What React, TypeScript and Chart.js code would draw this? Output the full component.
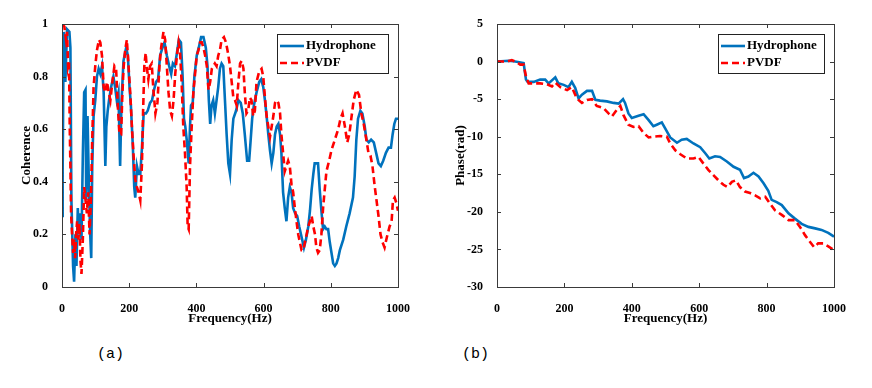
import React, { useEffect, useRef } from "react";
import { Chart, registerables } from "chart.js";
Chart.register(...registerables);

// ---------- Panel (a): Coherence ----------
const cohHydroFreq = [0,2,5,10,15,22,25,28,33,36,40,43,47,50,54,58,62,66,70,72,76,80,84,87,90,94,99,104,109,114,119,124,129,132,136,140,146,153,158,163,168,173,177,183,191,196,201,205,211,215,218,223,228,233,238,243,250,255,262,268,274,280,286,292,299,305,312,319,325,330,336,342,348,354,359,363,367,372,377,381,384,389,394,401,407,414,421,428,433,437,441,445,450,455,460,465,470,475,480,485,490,495,500,505,510,518,525,532,538,544,551,557,561,566,571,579,587,593,599,604,609,614,619,624,629,634,639,644,649,653,658,663,668,673,678,683,688,694,700,706,713,720,726,733,738,743,748,752,757,762,767,772,777,782,787,792,797,802,807,812,817,822,827,837,846,856,866,871,876,881,888,894,901,906,913,920,928,935,942,949,956,964,972,979,984,989,994,1000];
const cohHydro = [0.27,0.44,0.97,0.78,0.98,0.97,0.91,0.33,0.08,0.02,0.2,0.08,0.3,0.2,0.28,0.18,0.5,0.74,0.75,0.33,0.65,0.39,0.2,0.11,0.46,0.65,0.71,0.8,0.83,0.81,0.84,0.74,0.46,0.61,0.67,0.71,0.76,0.8,0.76,0.71,0.74,0.46,0.7,0.86,0.91,0.88,0.76,0.69,0.53,0.38,0.34,0.46,0.43,0.43,0.53,0.66,0.66,0.67,0.7,0.71,0.75,0.78,0.79,0.88,0.91,0.93,0.88,0.84,0.81,0.85,0.84,0.89,0.94,0.93,0.8,0.64,0.61,0.55,0.47,0.61,0.69,0.7,0.8,0.88,0.91,0.95,0.95,0.91,0.84,0.71,0.62,0.69,0.71,0.66,0.71,0.76,0.83,0.85,0.84,0.71,0.58,0.47,0.43,0.56,0.64,0.67,0.71,0.7,0.66,0.58,0.48,0.48,0.55,0.64,0.69,0.74,0.78,0.79,0.76,0.71,0.65,0.58,0.52,0.47,0.51,0.58,0.61,0.62,0.58,0.51,0.36,0.3,0.25,0.34,0.38,0.36,0.3,0.28,0.27,0.23,0.19,0.15,0.18,0.23,0.29,0.37,0.43,0.47,0.47,0.47,0.37,0.29,0.22,0.23,0.22,0.22,0.17,0.13,0.09,0.08,0.09,0.11,0.14,0.18,0.23,0.28,0.34,0.42,0.56,0.64,0.67,0.66,0.61,0.56,0.55,0.56,0.55,0.51,0.47,0.46,0.48,0.51,0.53,0.53,0.58,0.62,0.64,0.64];

const cohPvdfFreq = [0,7,12,15,18,21,23,25,27,30,33,36,39,42,45,49,52,55,58,62,66,70,74,78,82,86,90,94,99,104,110,114,119,124,129,134,139,144,150,156,161,166,171,176,179,183,188,193,198,203,208,213,218,223,228,233,238,241,245,249,252,257,262,267,272,278,284,290,295,302,307,312,317,322,327,332,337,342,347,351,356,361,366,371,374,377,381,386,391,396,401,406,411,416,421,426,431,436,441,446,450,455,460,465,470,475,482,488,494,500,505,510,515,520,525,530,535,540,544,549,554,559,564,569,574,579,587,594,599,604,609,614,619,624,629,634,639,644,649,653,658,663,668,673,678,683,688,693,698,703,708,713,718,723,728,733,738,743,748,753,757,762,767,772,777,782,787,795,802,812,822,829,835,842,849,855,861,868,876,884,891,898,906,912,918,924,930,936,942,948,954,960,967,975,981,985,990,995,1000];
const cohPvdf = [1.0,0.99,0.94,0.97,0.84,0.86,0.61,0.46,0.28,0.2,0.13,0.18,0.11,0.2,0.25,0.18,0.24,0.1,0.05,0.18,0.38,0.33,0.28,0.36,0.2,0.33,0.56,0.76,0.84,0.9,0.94,0.93,0.88,0.76,0.74,0.78,0.74,0.71,0.78,0.84,0.83,0.69,0.58,0.58,0.71,0.83,0.9,0.94,0.84,0.74,0.61,0.5,0.41,0.38,0.36,0.33,0.47,0.65,0.84,0.89,0.84,0.79,0.84,0.85,0.75,0.66,0.7,0.84,0.91,0.97,0.94,0.84,0.74,0.67,0.65,0.71,0.81,0.88,0.93,0.9,0.78,0.61,0.51,0.38,0.23,0.22,0.46,0.61,0.74,0.81,0.88,0.9,0.93,0.93,0.91,0.88,0.84,0.75,0.78,0.83,0.84,0.85,0.84,0.88,0.9,0.94,0.95,0.93,0.89,0.84,0.78,0.72,0.71,0.69,0.78,0.85,0.86,0.83,0.74,0.66,0.67,0.72,0.71,0.65,0.67,0.78,0.82,0.83,0.8,0.72,0.65,0.61,0.57,0.61,0.65,0.7,0.71,0.7,0.66,0.58,0.51,0.44,0.46,0.48,0.46,0.39,0.36,0.3,0.25,0.2,0.17,0.14,0.14,0.17,0.2,0.23,0.25,0.27,0.23,0.2,0.15,0.13,0.14,0.2,0.3,0.37,0.44,0.48,0.52,0.56,0.6,0.64,0.66,0.61,0.55,0.58,0.64,0.71,0.75,0.73,0.66,0.62,0.56,0.51,0.5,0.46,0.39,0.33,0.27,0.2,0.17,0.15,0.19,0.23,0.25,0.33,0.34,0.32,0.29];

// ---------- Panel (b): Phase ----------
const phaseHydroFreq = [0,35,54,79,86,91,109,128,143,153,173,182,198,212,222,232,242,252,267,282,292,306,326,346,361,374,380,390,400,420,435,450,464,474,489,499,514,534,548,563,583,603,618,630,647,662,682,702,721,733,746,761,776,791,805,815,830,845,865,884,904,924,944,963,983,1000];
const phaseHydro = [0,0.1,0,-0.2,-2.4,-2.7,-2.7,-2.4,-2.4,-2.9,-2.1,-2.9,-3.1,-3.4,-2.7,-3.5,-4.9,-4.4,-3.9,-3.9,-5.1,-5.2,-5.3,-5.5,-5.6,-5.0,-5.5,-6.9,-7.5,-7.2,-7.0,-7.8,-8.6,-8.4,-8.1,-8.9,-10.1,-10.8,-10.4,-10.3,-10.9,-11.4,-12.2,-12.9,-12.6,-12.7,-13.3,-14.0,-14.4,-15.5,-15.3,-14.8,-15.3,-16.2,-17.2,-18.4,-18.7,-19.1,-20.2,-20.9,-21.6,-22.0,-22.2,-22.4,-22.8,-23.3];

const phasePvdfFreq = [0,30,44,54,69,79,86,94,109,128,148,163,173,188,208,222,237,252,267,282,296,316,331,341,356,366,375,390,405,420,435,450,464,484,504,514,529,543,563,583,598,613,627,642,657,672,684,697,709,721,736,751,766,781,796,810,825,845,865,884,899,914,929,941,953,968,983,1000];
const phasePvdf = [0,0,0.2,0,-0.4,-0.4,-2.0,-2.9,-2.9,-2.9,-3.0,-3.3,-2.8,-3.4,-3.8,-3.4,-4.9,-5.5,-5.1,-5.0,-5.9,-6.2,-6.9,-7.3,-6.4,-5.9,-7.1,-8.4,-8.7,-8.6,-9.5,-10.1,-10.0,-9.9,-10.0,-10.9,-11.8,-12.3,-12.9,-12.9,-12.7,-13.6,-14.4,-15.1,-15.8,-16.4,-16.7,-16.0,-15.8,-16.7,-17.3,-17.5,-17.8,-18.2,-18.0,-18.9,-19.8,-20.4,-21.1,-21.1,-22.0,-23.1,-24.0,-24.7,-24.2,-24.2,-24.6,-25.1];

const seriesNames = ["Hydrophone", "PVDF"];
const xTitle = "Frequency(Hz)";
const yTitleA = "Coherence";
const yTitleB = "Phase(rad)";
const captions = ["(a)", "(b)"];

const BLUE = "#0072BD";
const RED = "#FF0000";
const FONT = '"Liberation Serif", "Times New Roman", serif';

function pts(xs: number[], ys: number[]) {
  return xs.map((x, i) => ({ x, y: ys[i] }));
}

function fmtTick(v: number | string) {
  return String(parseFloat(Number(v).toFixed(2)));
}

const framePlugin = {
  id: "matlabFrame",
  afterDraw(chart: any) {
    const { ctx, chartArea } = chart;
    const { left, right, top, bottom } = chartArea;
    ctx.save();
    ctx.strokeStyle = "#3a3a3a";
    ctx.lineWidth = 1;
    ctx.strokeRect(Math.round(left) + 0.5, Math.round(top) + 0.5, Math.round(right - left), Math.round(bottom - top));
    const tl = 4;
    ctx.beginPath();
    const xs = chart.scales.x;
    xs.ticks.forEach((t: any) => {
      const p = Math.round(xs.getPixelForValue(t.value)) + 0.5;
      if (p <= left + 1 || p >= right - 1) return;
      ctx.moveTo(p, bottom);
      ctx.lineTo(p, bottom - tl);
      ctx.moveTo(p, top);
      ctx.lineTo(p, top + tl);
    });
    const ys = chart.scales.y;
    ys.ticks.forEach((t: any) => {
      const p = Math.round(ys.getPixelForValue(t.value)) + 0.5;
      if (p <= top + 1 || p >= bottom - 1) return;
      ctx.moveTo(left, p);
      ctx.lineTo(left + tl, p);
      ctx.moveTo(right, p);
      ctx.lineTo(right - tl, p);
    });
    ctx.stroke();
    ctx.restore();
  },
};

const legendPlugin = {
  id: "boxLegend",
  afterDraw(chart: any, _args: any, opts: any) {
    const { ctx, chartArea } = chart;
    const w = opts.width || 108;
    const h = 39;
    const x = Math.round(chartArea.right - 10 - w);
    const y = Math.round(chartArea.top + 10);
    ctx.save();
    ctx.fillStyle = "#ffffff";
    ctx.fillRect(x, y, w, h);
    ctx.strokeStyle = "#222";
    ctx.lineWidth = 1;
    ctx.strokeRect(x + 0.5, y + 0.5, w, h);
    chart.data.datasets.forEach((ds: any, i: number) => {
      const cy = y + 12 + i * 17;
      ctx.strokeStyle = ds.borderColor;
      ctx.lineWidth = ds.borderWidth;
      ctx.setLineDash(ds.borderDash || []);
      ctx.beginPath();
      ctx.moveTo(x + 3, cy);
      ctx.lineTo(x + 27, cy);
      ctx.stroke();
      ctx.setLineDash([]);
      ctx.fillStyle = "#000";
      ctx.font = "bold 13px " + FONT;
      ctx.textBaseline = "middle";
      ctx.textAlign = "left";
      ctx.fillText(ds.label, x + 29, cy);
    });
    ctx.restore();
  },
};

function makeConfig(opts: {
  hx: number[]; hy: number[]; px: number[]; py: number[];
  ymin: number; ymax: number; ystep: number; ytitle: string; padRight: number; titlePad: number; legendW: number;
}) {
  return {
    type: "line" as const,
    data: {
      datasets: [
        {
          label: seriesNames[0],
          data: pts(opts.hx, opts.hy),
          borderColor: BLUE,
          backgroundColor: BLUE,
          borderWidth: 2.6,
          pointRadius: 0,
          tension: 0,
          order: 1,
        },
        {
          label: seriesNames[1],
          data: pts(opts.px, opts.py),
          borderColor: RED,
          backgroundColor: RED,
          borderWidth: 2.6,
          borderDash: [7, 4],
          pointRadius: 0,
          tension: 0,
          order: 0,
        },
      ],
    },
    options: {
      responsive: false,
      animation: false,
      events: [],
      layout: { padding: { left: 0, right: opts.padRight, top: 24, bottom: 5 } },
      plugins: {
        legend: { display: false },
        tooltip: { enabled: false },
        boxLegend: { width: opts.legendW },
      },
      scales: {
        x: {
          type: "linear",
          min: 0,
          max: 1000,
          grid: { display: false },
          border: { display: false },
          ticks: {
            stepSize: 200,
            autoSkip: false,
            maxRotation: 0,
            padding: 7,
            color: "#000",
            font: { family: FONT, size: 12, weight: "bold" },
            callback: (v: any) => fmtTick(v),
          },
          title: {
            display: true,
            text: xTitle,
            color: "#000",
            font: { family: FONT, size: 13, weight: "bold" },
            padding: { top: 0, bottom: 4 },
          },
          afterFit: (s: any) => { s.height = 43; },
        },
        y: {
          type: "linear",
          min: opts.ymin,
          max: opts.ymax,
          grid: { display: false },
          border: { display: false },
          ticks: {
            stepSize: opts.ystep,
            autoSkip: false,
            padding: 6,
            color: "#000",
            font: { family: FONT, size: 12, weight: "bold" },
            callback: (v: any) => fmtTick(v),
          },
          title: {
            display: true,
            text: opts.ytitle,
            color: "#000",
            font: { family: FONT, size: 13, weight: "bold" },
            padding: { top: opts.titlePad, bottom: 0 },
          },
          afterFit: (s: any) => { s.width = 62; },
        },
      },
    },
    plugins: [framePlugin, legendPlugin],
  };
}

function ChartCanvas(props: { config: any; left: number; width: number; height: number }) {
  const ref = useRef<HTMLCanvasElement | null>(null);
  useEffect(() => {
    if (!ref.current) return;
    const chart = new Chart(ref.current, props.config);
    return () => chart.destroy();
  }, []);
  return (
    <canvas
      ref={ref}
      width={props.width}
      height={props.height}
      style={{ position: "absolute", left: props.left, top: 0, width: props.width, height: props.height }}
    />
  );
}

export default function App() {
  const cfgA = makeConfig({
    hx: cohHydroFreq, hy: cohHydro, px: cohPvdfFreq, py: cohPvdf,
    ymin: 0, ymax: 1, ystep: 0.2, ytitle: yTitleA, padRight: 32, titlePad: 19, legendW: 111,
  });
  const cfgB = makeConfig({
    hx: phaseHydroFreq, hy: phaseHydro, px: phasePvdfFreq, py: phasePvdf,
    ymin: -30, ymax: 5, ystep: 5, ytitle: yTitleB, padRight: 31, titlePad: 18, legendW: 106,
  });
  const capStyle: React.CSSProperties = {
    position: "absolute",
    top: 345,
    fontFamily: '"Liberation Mono", monospace',
    fontSize: 15,
    color: "#000",
    lineHeight: "20px",
  };
  return (
    <div style={{ position: "absolute", left: 0, top: 0, width: 872, height: 388, background: "#fff", overflow: "hidden" }}>
      <ChartCanvas config={cfgA} left={0} width={430} height={335} />
      <ChartCanvas config={cfgB} left={435} width={430} height={335} />
      <div style={{ ...capStyle, left: 97 }}>{captions[0]}</div>
      <div style={{ ...capStyle, left: 462 }}>{captions[1]}</div>
    </div>
  );
}
